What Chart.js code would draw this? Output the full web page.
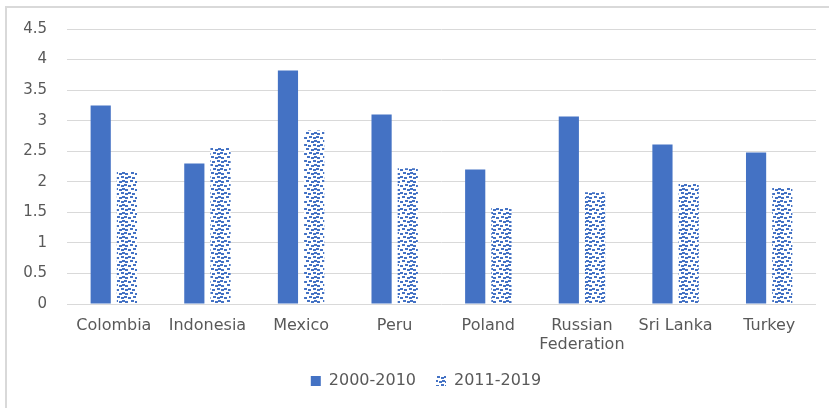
<!DOCTYPE html>
<html>
<head>
<meta charset="utf-8">
<script src="https://cdn.jsdelivr.net/npm/chart.js@4.4.1/dist/chart.umd.min.js"></script>
<style>
    html, body { margin: 0; padding: 0; background: #fff; }
    #wrap { position: relative; width: 829px; height: 408px; }
    #frame {
        position: absolute; left: 5px; top: 6px; right: -2px; bottom: -2px;
        border-top: 2px solid #d9d9d9; border-left: 2px solid #d9d9d9;
    }
    canvas { position: absolute; left: 0; top: 0; }
</style>
</head>
<body>
<div id="wrap">
    <div id="frame"></div>
    <canvas id="barChart" width="829" height="408"></canvas>
</div>
<script>
// ======================
// DATA
// ======================
const countries = ["Colombia", "Indonesia", "Mexico", "Peru", "Poland", ["Russian", "Federation"], "Sri Lanka", "Turkey"];
const period1 = [3.25, 2.30, 3.82, 3.10, 2.20, 3.07, 2.61, 2.48];   // 2000-2010
const period2 = [2.17, 2.56, 2.84, 2.22, 1.57, 1.83, 1.97, 1.91];   // 2011-2019
const seriesNames = ["2000-2010", "2011-2019"];

const BLUE = "#4472C4";
const TEXT = "#595959";
const GRID = "#d9d9d9";

// ======================
// DOTTED FILL PATTERN
// ======================
function makeDots() {
    const tile = document.createElement("canvas");
    tile.width = 16;
    tile.height = 16;
    const t = tile.getContext("2d");
    t.fillStyle = "#fff";
    t.fillRect(0, 0, 16, 16);
    t.fillStyle = BLUE;
    const spots = [
        [0, 0], [4, 1], [9, 0], [13, 1],
        [2, 4], [7, 5], [10, 4], [13, 5],
        [0, 9], [5, 8], [9, 9], [12, 8],
        [3, 12], [7, 13], [10, 12], [13, 13]
    ];
    spots.forEach(function (p) {
        t.fillRect(p[0], p[1], 3, 2);
    });
    return t.createPattern(tile, "repeat");
}
const dots = makeDots();

// shift the legend a little to the right of the canvas centre
const legendShift = {
    id: "legendShift",
    afterLayout: function (chart) {
        if (chart.legend) {
            chart.legend.left += 18;
            chart.legend.right += 18;
        }
    }
};

// ======================
// RENDER CHART
// ======================
Chart.defaults.font.family = "'DejaVu Sans', sans-serif";
Chart.defaults.font.size = 16;
Chart.defaults.color = TEXT;

new Chart(document.getElementById("barChart"), {
    type: "bar",
    data: {
        labels: countries,
        datasets: [
            {
                label: seriesNames[0],
                data: period1,
                backgroundColor: BLUE,
                borderWidth: 0
            },
            {
                label: seriesNames[1],
                data: period2,
                backgroundColor: dots,
                borderWidth: 0
            }
        ]
    },
    plugins: [legendShift],
    options: {
        responsive: false,
        animation: false,
        categoryPercentage: 0.56,
        barPercentage: 0.77,
        layout: { padding: { top: 27, right: 13, bottom: 9, left: 0 } },
        plugins: {
            tooltip: { enabled: false },
            legend: {
                position: "bottom",
                labels: {
                    boxWidth: 10,
                    boxHeight: 10,
                    padding: 20,
                    color: TEXT
                }
            }
        },
        scales: {
            x: {
                grid: { display: false, drawTicks: false },
                border: { display: false },
                ticks: { padding: 12, color: TEXT, maxRotation: 0 },
                afterFit: function (scale) { scale.height = 49; }
            },
            y: {
                min: 0,
                max: 4.5,
                ticks: {
                    stepSize: 0.5,
                    padding: 20,
                    color: TEXT,
                    font: { size: 15 },
                    callback: function (v) { return String(v); }
                },
                grid: { color: GRID, lineWidth: 1, drawTicks: false },
                border: { display: false },
                afterFit: function (scale) { scale.width = 67; }
            }
        }
    }
});
</script>
</body>
</html>
